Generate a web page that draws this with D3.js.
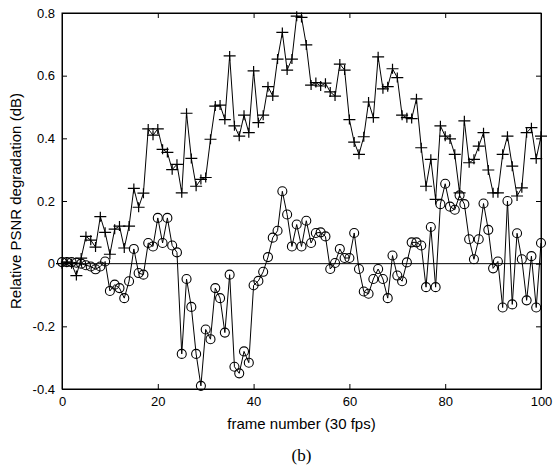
<!DOCTYPE html>
<html>
<head>
<meta charset="utf-8">
<script src="https://cdn.jsdelivr.net/npm/d3@7"></script>
<style>
  body { margin: 0; background: #fff; }
  text { font-family: "Liberation Sans", Arial, sans-serif; fill: #000; }
  .axis path, .axis line { stroke: #000; }
  .serif { font-family: "Liberation Serif", "Times New Roman", serif; }
</style>
</head>
<body>
<div id="graphic"></div>
<script>
// values, one per frame 0..100
const frames = d3.range(0, 101);

const plusSeries = [
  0.0, 0.005, 0.0, -0.038, 0.018, 0.087, 0.075, 0.053, 0.15, 0.10,
  0.03, 0.11, 0.12, 0.05, 0.12, 0.24, 0.18, 0.225, 0.43, 0.41,
  0.43, 0.365, 0.355, 0.30, 0.317, 0.226, 0.48, 0.336, 0.247, 0.269,
  0.275, 0.397, 0.503, 0.506, 0.46, 0.663, 0.44, 0.407, 0.474, 0.418,
  0.615, 0.45, 0.474, 0.565, 0.535, 0.653, 0.738, 0.618, 0.653, 0.79,
  0.786, 0.698, 0.57, 0.578, 0.567, 0.576, 0.548, 0.535, 0.637, 0.618,
  0.46, 0.388, 0.349, 0.405, 0.516, 0.466, 0.66, 0.558, 0.565, 0.622,
  0.594, 0.474, 0.466, 0.463, 0.526, 0.37, 0.247, 0.333, 0.205, 0.44,
  0.407, 0.398, 0.349, 0.226, 0.456, 0.322, 0.333, 0.375, 0.418, 0.299,
  0.226, 0.226, 0.349, 0.407, 0.311, 0.216, 0.242, 0.418, 0.434, 0.335,
  0.407
];

const circleSeries = [
  0.005, 0.005, 0.005, 0.003, 0.0, -0.005, -0.009, -0.018, -0.009, 0.007,
  -0.087, -0.067, -0.078, -0.11, -0.056, 0.047, -0.03, -0.035, 0.066, 0.055,
  0.146, 0.066, 0.146, 0.058, 0.036, -0.288, -0.049, -0.138, -0.288, -0.39,
  -0.21, -0.241, -0.078, -0.11, -0.22, -0.035, -0.329, -0.35, -0.28, -0.316,
  -0.069, -0.055, -0.026, 0.021, 0.083, 0.105, 0.231, 0.157, 0.055, 0.125,
  0.055, 0.137, 0.066, 0.098, 0.10, 0.087, -0.017, 0.002, 0.047, 0.018,
  0.018, 0.098, -0.017, -0.089, -0.096, -0.049, -0.017, -0.049, -0.11, 0.026,
  -0.038, -0.056, 0.004, 0.068, 0.068, 0.058, -0.075, 0.117, -0.075, 0.19,
  0.255, 0.182, 0.172, 0.218, 0.19, 0.078, 0.014, 0.078, 0.192, 0.108,
  -0.015, 0.007, -0.14, 0.2, -0.13, 0.097, 0.014, -0.117, 0.024, -0.14,
  0.066
];

const xTicks = [0, 20, 40, 60, 80, 100];
const yTicks = [-0.4, -0.2, 0, 0.2, 0.4, 0.6, 0.8];

const xLabel = "frame number (30 fps)";
const yLabel = "Relative PSNR degradation (dB)";
const caption = "(b)";

/** CONSTANTS */
const
  margin = { top: 13, bottom: 82, left: 62, right: 16 },
  width = 557 - margin.left - margin.right,
  height = 471 - margin.top - margin.bottom;

var svg = d3.select("#graphic").append("svg")
  .attr("width", 557)
  .attr("height", 471);

var g = svg.append("g")
  .attr("transform", "translate(" + margin.left + "," + margin.top + ")");

var x = d3.scaleLinear()
  .domain([0, 100])
  .range([0, width]);

var y = d3.scaleLinear()
  .domain([-0.4, 0.8])
  .range([height, 0]);

var fmt = d => d === 0 ? "0" : d.toFixed(1);

// axes, ticks point inward like the matlab box
g.append("g")
  .attr("class", "axis")
  .attr("transform", `translate(0,${height})`)
  .call(d3.axisBottom(x).tickValues(xTicks).tickSizeInner(-5).tickSizeOuter(0).tickPadding(5))
  .call(a => a.selectAll("text").attr("font-size", 13).attr("dy", "0.9em"));

g.append("g")
  .attr("class", "axis")
  .call(d3.axisTop(x).tickValues(xTicks).tickSizeInner(-5).tickSizeOuter(0).tickFormat(""));

g.append("g")
  .attr("class", "axis")
  .call(d3.axisLeft(y).tickValues(yTicks).tickSizeInner(-5).tickSizeOuter(0).tickPadding(7).tickFormat(fmt))
  .call(a => a.selectAll("text").attr("font-size", 13));

g.append("g")
  .attr("class", "axis")
  .attr("transform", `translate(${width},0)`)
  .call(d3.axisRight(y).tickValues(yTicks).tickSizeInner(-5).tickSizeOuter(0).tickFormat(""));

// box
g.append("rect")
  .attr("width", width)
  .attr("height", height)
  .attr("fill", "none")
  .attr("stroke", "#000");

// zero line
g.append("line")
  .attr("x1", 0).attr("x2", width)
  .attr("y1", y(0)).attr("y2", y(0))
  .attr("stroke", "#000");

var line = d3.line()
  .x((d, i) => x(frames[i]))
  .y(d => y(d));

g.append("path")
  .datum(plusSeries)
  .attr("d", line)
  .attr("fill", "none")
  .attr("stroke", "#000");

g.append("path")
  .datum(circleSeries)
  .attr("d", line)
  .attr("fill", "none")
  .attr("stroke", "#000");

// plus markers
g.selectAll(".plus")
  .data(plusSeries)
  .enter()
  .append("path")
  .attr("class", "plus")
  .attr("transform", (d, i) => `translate(${x(frames[i])},${y(d)})`)
  .attr("d", "M-6,0H6M0,-5V5")
  .attr("stroke", "#000")
  .attr("stroke-width", 1.2);

// circle markers
g.selectAll(".circ")
  .data(circleSeries)
  .enter()
  .append("circle")
  .attr("class", "circ")
  .attr("cx", (d, i) => x(frames[i]))
  .attr("cy", d => y(d))
  .attr("r", 4.5)
  .attr("fill", "none")
  .attr("stroke", "#000")
  .attr("stroke-width", 1.1);

// labels
svg.append("text")
  .attr("x", margin.left + width / 2)
  .attr("y", 429)
  .attr("text-anchor", "middle")
  .attr("font-size", 15)
  .text(xLabel);

svg.append("text")
  .attr("transform", `translate(21,${margin.top + height / 2}) rotate(-90)`)
  .attr("text-anchor", "middle")
  .attr("font-size", 15)
  .text(yLabel);

svg.append("text")
  .attr("class", "serif")
  .attr("x", margin.left + width / 2)
  .attr("y", 461)
  .attr("text-anchor", "middle")
  .attr("font-size", 17)
  .text(caption);
</script>
</body>
</html>
